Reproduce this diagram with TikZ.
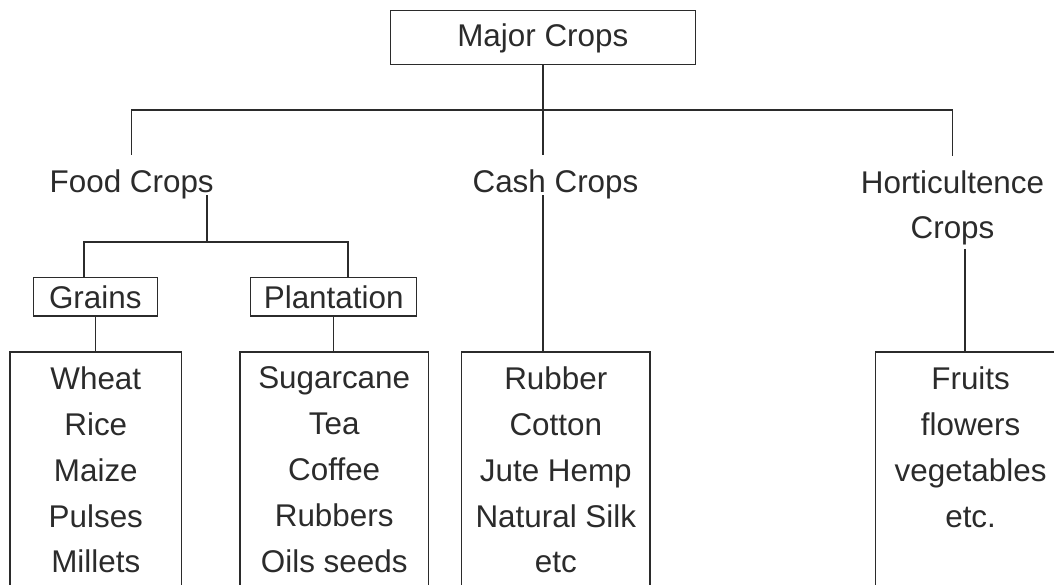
\documentclass[tikz,border=0pt]{standalone}
\usepackage{fontspec}
\setmainfont{Liberation Sans}
\usepackage{tikz}
\usetikzlibrary{positioning}
\definecolor{inkgray}{HTML}{2b2b2b}
\newcommand{\cropfont}{\fontsize{15.7pt}{22.9pt}\selectfont}

\begin{document}
\begin{tikzpicture}[
  x=0.5pt, y=-0.5pt,
  link/.style={line width=0.75pt, inkgray},
  drop/.style={link, shorten >=5.5pt},
  lbl/.style={font=\cropfont, text=inkgray, inner xsep=0pt, inner ysep=1.5pt, text depth=0pt},
  tag/.style={lbl, draw=inkgray, line width=0.75pt, text height=11.3pt, inner ysep=3.97pt},
  listbox/.style={lbl, draw=inkgray, line width=0.75pt, align=center,
    inner ysep=7.45pt, text depth=130pt, anchor=north},
]
  \useasboundingbox (0,0) rectangle (1054,584);
  \clip (0,0) rectangle (1054,584);

  % ── Top and second level ─────────────────────────────────────────────
  \node[tag, minimum width=152.5pt, minimum height=26.8pt, text depth=2.5pt] (major) at (542.8,37.5) {Major Crops};
  \node[lbl, anchor=base] (food) at (131.7,192) {Food Crops};
  \node[lbl, anchor=base] (cash) at (555.5,192) {Cash Crops};
  \node[font=\cropfont, text=inkgray, inner sep=1.5pt, align=center, anchor=north] (hort) at (952.5,167) {Horticultence\\Crops};

  % ── Food crop groups ─────────────────────────────────────────────────
  \node[tag, minimum width=62pt] (grains) at (95.3,296.75) {Grains};
  \node[tag, minimum width=83pt] (plant)  at (333.7,296.75) {Plantation};

  % ── Crop lists ───────────────────────────────────────────────────────
  \node[listbox, minimum width=85.8pt] (grainlist) at (95.8,351.3) {Wheat\\Rice\\Maize\\Pulses\\Millets};
  \node[listbox, minimum width=94.2pt] (plantlist) at (334.2,351.3) {Sugarcane\\Tea\\Coffee\\Rubbers\\Oils seeds};
  \node[listbox, minimum width=94.2pt] (cashlist)  at (555.8,351.3) {Rubber\\Cotton\\Jute Hemp\\Natural Silk\\etc};
  \node[listbox, minimum width=95pt]   (hortlist)  at (970.6,351.3) {Fruits\\flowers\\vegetables\\etc.};

  % ── Connectors ───────────────────────────────────────────────────────
  \coordinate (bus) at (543,110);
  \coordinate (fj)  at (207,242);
  \coordinate (gj)  at (84,242);
  \coordinate (pj)  at (348,242);
  \coordinate (hj)  at (965,300);

  \draw[drop] (major.south -| bus) -- (cash.north -| bus);
  \draw[link, shorten <=5.5pt, shorten >=5.5pt] (food.north) |- (bus) -| (hort.north);
  \draw[link] (food.south -| fj) -- (fj);
  \draw[link] (grains.north -| gj) -- (gj) -- (pj) -- (plant.north -| pj);
  \draw[link] (grains.south) -- (grains.south |- grainlist.north);
  \draw[link] (plant.south) -- (plant.south |- plantlist.north);
  \draw[link] (cash.south -| bus) -- (cashlist.north -| bus);
  \draw[link] (hort.south -| hj) -- (hortlist.north -| hj);
\end{tikzpicture}
\end{document}
